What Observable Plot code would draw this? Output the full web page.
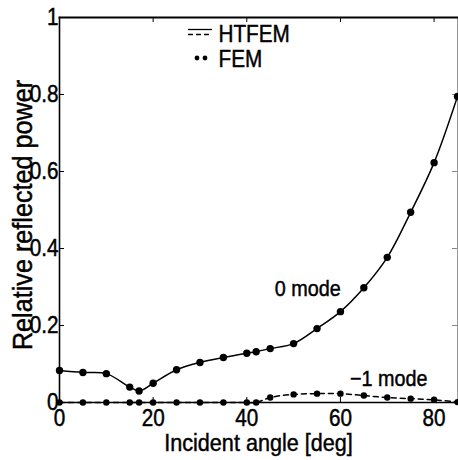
<!DOCTYPE html>
<html>
<head>
<meta charset="utf-8">
<script src="https://cdn.jsdelivr.net/npm/d3@7"></script>
<script src="https://cdn.jsdelivr.net/npm/@observablehq/plot@0.6"></script>
<style>
  html, body { margin: 0; padding: 0; background: #fff; }
  #chart svg { display: block; }
  #chart svg text { stroke: #000; stroke-width: 0.45px; }
</style>
</head>
<body>
<div id="chart"></div>
<script>
// Data
const angles = [0, 5, 10, 15, 17, 20, 25, 30, 35, 40, 42, 45, 50, 55, 60, 65, 70, 75, 80, 85];
const mode0  = [0.083, 0.078, 0.075, 0.040, 0.030, 0.050, 0.085, 0.104, 0.117, 0.128, 0.132, 0.140, 0.153, 0.192, 0.236, 0.298, 0.377, 0.494, 0.623, 0.795];
const modeM1 = [0, 0, 0, 0, 0, 0, 0, 0, 0, 0, 0, 0.013, 0.021, 0.023, 0.023, 0.018, 0.013, 0.010, 0.007, 0.001];
const xTicks = [0, 20, 40, 60, 80];
const yTicks = [0, 0.2, 0.4, 0.6, 0.8, 1];
const seriesNames = ["HTFEM", "FEM"];
const modeLabels = ["0 mode", "\u22121 mode"];
const xLabel = "Incident angle [deg]";
const yLabel = "Relative reflected power";

const d0 = angles.map((a, i) => ({x: a, y: mode0[i]}));
const d1 = angles.map((a, i) => ({x: a, y: modeM1[i]}));

const W = 458, H = 460;
const mL = 59, mR = 1, mT = 17, mB = 58;
const fw = W - mL - mR, fh = H - mT - mB;
const font = "'Liberation Sans', Arial, Helvetica, sans-serif";

const plot = Plot.plot({
  width: W, height: H,
  marginLeft: mL, marginRight: mR, marginTop: mT, marginBottom: mB,
  style: {fontFamily: font, background: "#fff", color: "#000", overflow: "visible"},
  x: {domain: [0, 85], label: null},
  y: {domain: [0, 1], label: null},
  marks: [
    Plot.axisX(xTicks, {tickSize: 0, tickPadding: 7, fontSize: 23, label: null, tickFormat: d => String(d)}),
    Plot.axisY(yTicks, {tickSize: 0, tickPadding: 1, fontSize: 23, label: null, tickFormat: d => String(+d.toFixed(1))}),
    // inward ticks
    Plot.tickX(xTicks, {x: d => d, insetTop: fh - 5, stroke: "#000"}),
    Plot.tickX(xTicks, {x: d => d, insetBottom: fh - 5, stroke: "#000"}),
    Plot.tickY(yTicks, {y: d => d, insetRight: fw - 5, stroke: "#000"}),
    Plot.tickY(yTicks, {y: d => d, insetLeft: fw - 5, stroke: "#888"}),
    // frame
    Plot.frame({anchor: "right", stroke: "#999", strokeWidth: 1}),
    Plot.frame({anchor: "left", stroke: "#000", strokeWidth: 1.6}),
    Plot.frame({anchor: "top", stroke: "#000", strokeWidth: 1.8}),
    Plot.frame({anchor: "bottom", stroke: "#000", strokeWidth: 1.6}),
    // HTFEM curves
    Plot.line(d0, {x: "x", y: "y", curve: "catmull-rom", stroke: "#000", strokeWidth: 1.5}),
    Plot.line(d1, {x: "x", y: "y", curve: "catmull-rom", stroke: "#000", strokeWidth: 1.5, strokeDasharray: "5,4"}),
    // FEM points
    Plot.dot(d0, {x: "x", y: "y", r: 3.7, fill: "#000", stroke: "none"}),
    Plot.dot(d1, {x: "x", y: "y", r: 3.2, fill: "#000", stroke: "none"}),
    // mode annotations
    Plot.text([modeLabels[0]], {x: [53], y: [0.296], fontSize: 22, fill: "#000"}),
    Plot.text([modeLabels[1]], {x: [70.3], y: [0.062], fontSize: 22, fill: "#000"}),
    // axis titles
    Plot.text([xLabel], {frameAnchor: "bottom", lineAnchor: "bottom", textAnchor: "middle", dy: 48, fontSize: 24, fill: "#000"}),
    Plot.text([yLabel], {frameAnchor: "left", lineAnchor: "bottom", textAnchor: "middle", dx: -28, dy: 5, rotate: -90, fontSize: 28, fill: "#000"}),
    // legend text
    Plot.text([seriesNames[0]], {frameAnchor: "top-left", lineAnchor: "middle", dx: 159, dy: 17, textAnchor: "start", fontSize: 23, fill: "#000"}),
    Plot.text([seriesNames[1]], {frameAnchor: "top-left", lineAnchor: "middle", dx: 159, dy: 42, textAnchor: "start", fontSize: 23, fill: "#000"})
  ]
});

// legend samples (decoration)
const svg = d3.select(plot);
const g = svg.append("g").attr("stroke", "#000");
g.append("line").attr("x1", 188).attr("x2", 212).attr("y1", 29.5).attr("y2", 29.5).attr("stroke-width", 1.3);
g.append("line").attr("x1", 188).attr("x2", 212).attr("y1", 34.5).attr("y2", 34.5).attr("stroke-width", 1.3).attr("stroke-dasharray", "5,3");
g.append("circle").attr("cx", 197).attr("cy", 58).attr("r", 2.4).attr("fill", "#000").attr("stroke", "none");
g.append("circle").attr("cx", 205).attr("cy", 58).attr("r", 2.4).attr("fill", "#000").attr("stroke", "none");

document.getElementById("chart").appendChild(plot);

// narrow the glyphs horizontally (reference type is condensed), keeping each text's anchor fixed
const SX = 0.9;
svg.selectAll("text").each(function () {
  const b = this.getBBox();
  const anchor = getComputedStyle(this).textAnchor;
  const cx = anchor === "end" ? b.x + b.width : anchor === "start" ? b.x : b.x + b.width / 2;
  const t = this.getAttribute("transform") || "";
  this.setAttribute("transform", `${t} translate(${cx},0) scale(${SX},1) translate(${-cx},0)`);
});
</script>
</body>
</html>
